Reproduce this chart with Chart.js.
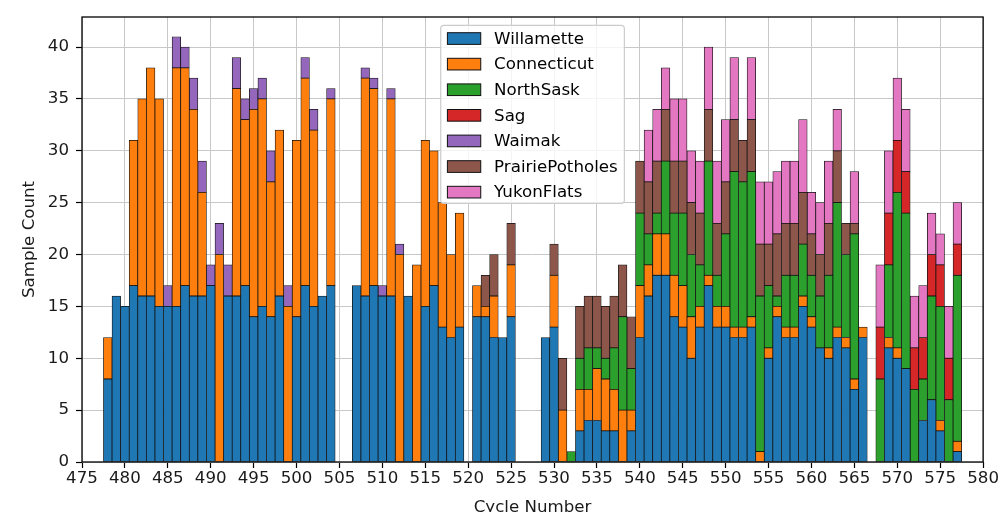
<!DOCTYPE html>
<html>
<head>
<meta charset="utf-8">
<title>Sample Count by Cycle</title>
<script src="https://cdn.jsdelivr.net/npm/chart.js@4.4.0/dist/chart.umd.min.js"></script>
<style>
  html, body { margin: 0; padding: 0; background: #ffffff; }
  canvas { display: block; }
</style>
</head>
<body>
<canvas id="chart" width="1000" height="512"></canvas>
<script>
// Cycle numbers (one bar per cycle)
const cycles = [
  478, 479, 480, 481, 482, 483, 484, 485, 486, 487,
  488, 489, 490, 491, 492, 493, 494, 495, 496, 497,
  498, 499, 500, 501, 502, 503, 504, 505, 506, 507,
  508, 509, 510, 511, 512, 513, 514, 515, 516, 517,
  518, 519, 520, 521, 522, 523, 524, 525, 526, 527,
  528, 529, 530, 531, 532, 533, 534, 535, 536, 537,
  538, 539, 540, 541, 542, 543, 544, 545, 546, 547,
  548, 549, 550, 551, 552, 553, 554, 555, 556, 557,
  558, 559, 560, 561, 562, 563, 564, 565, 566, 567,
  568, 569, 570, 571, 572, 573, 574, 575, 576, 577
];

// Sample counts per site, aligned with `cycles`
const willamette = [
  8, 16, 15, 17, 16, 16, 15, 15, 15, 17,
  16, 16, 17, 0, 16, 16, 17, 14, 15, 14,
  16, 0, 14, 17, 15, 16, 17, 0, 0, 17,
  16, 17, 16, 16, 0, 16, 0, 15, 17, 13,
  12, 13, 0, 14, 14, 12, 12, 14, 0, 0,
  0, 12, 13, 0, 0, 3, 4, 4, 3, 3,
  0, 3, 12, 16, 18, 18, 14, 13, 10, 13,
  17, 13, 13, 12, 12, 13, 0, 10, 14, 12,
  12, 15, 13, 11, 10, 12, 11, 7, 12, 0,
  0, 11, 10, 9, 0, 4, 6, 3, 0, 1
];
const connecticut = [
  4, 0, 0, 14, 19, 22, 20, 0, 23, 21,
  18, 10, 0, 20, 0, 20, 16, 20, 20, 13,
  16, 15, 17, 20, 17, 0, 18, 0, 0, 0,
  21, 19, 0, 19, 20, 0, 19, 16, 13, 12,
  8, 11, 0, 3, 1, 4, 0, 5, 0, 0,
  0, 0, 5, 5, 0, 4, 3, 5, 5, 4,
  5, 2, 5, 3, 4, 4, 4, 4, 4, 2,
  1, 2, 2, 1, 1, 1, 1, 1, 1, 1,
  1, 1, 1, 0, 1, 1, 1, 1, 1, 0,
  0, 1, 1, 0, 0, 0, 0, 1, 0, 1
];
const northSask = [
  0, 0, 0, 0, 0, 0, 0, 0, 0, 0,
  0, 0, 0, 0, 0, 0, 0, 0, 0, 0,
  0, 0, 0, 0, 0, 0, 0, 0, 0, 0,
  0, 0, 0, 0, 0, 0, 0, 0, 0, 0,
  0, 0, 0, 0, 0, 0, 0, 0, 0, 0,
  0, 0, 0, 0, 1, 3, 4, 2, 2, 4,
  9, 4, 7, 3, 2, 7, 6, 7, 6, 4,
  11, 3, 7, 15, 14, 14, 15, 6, 1, 5,
  5, 5, 4, 5, 7, 12, 8, 14, 0, 0,
  8, 7, 15, 15, 7, 4, 10, 11, 6, 16
];
const sag = [
  0, 0, 0, 0, 0, 0, 0, 0, 0, 0,
  0, 0, 0, 0, 0, 0, 0, 0, 0, 0,
  0, 0, 0, 0, 0, 0, 0, 0, 0, 0,
  0, 0, 0, 0, 0, 0, 0, 0, 0, 0,
  0, 0, 0, 0, 0, 0, 0, 0, 0, 0,
  0, 0, 0, 0, 0, 0, 0, 0, 0, 0,
  0, 0, 0, 0, 0, 0, 0, 0, 0, 0,
  0, 0, 0, 0, 0, 0, 0, 0, 0, 0,
  0, 0, 0, 0, 0, 0, 0, 0, 0, 0,
  5, 5, 5, 4, 4, 4, 4, 4, 4, 3
];
const waimak = [
  0, 0, 0, 0, 0, 0, 0, 2, 3, 2,
  3, 3, 2, 3, 3, 3, 2, 2, 2, 3,
  0, 2, 0, 2, 2, 0, 1, 0, 0, 0,
  1, 1, 1, 1, 1, 0, 0, 0, 0, 0,
  0, 0, 0, 0, 0, 0, 0, 0, 0, 0,
  0, 0, 0, 0, 0, 0, 0, 0, 0, 0,
  0, 0, 0, 0, 0, 0, 0, 0, 0, 0,
  0, 0, 0, 0, 0, 0, 0, 0, 0, 0,
  0, 0, 0, 0, 0, 0, 0, 0, 0, 0,
  0, 0, 0, 0, 0, 0, 0, 0, 0, 0
];
const prairiePotholes = [
  0, 0, 0, 0, 0, 0, 0, 0, 0, 0,
  0, 0, 0, 0, 0, 0, 0, 0, 0, 0,
  0, 0, 0, 0, 0, 0, 0, 0, 0, 0,
  0, 0, 0, 0, 0, 0, 0, 0, 0, 0,
  0, 0, 0, 0, 3, 4, 0, 4, 0, 0,
  0, 0, 3, 5, 0, 5, 5, 5, 5, 5,
  5, 5, 5, 5, 5, 5, 5, 5, 5, 5,
  5, 5, 5, 5, 4, 5, 5, 4, 6, 5,
  5, 5, 4, 4, 5, 5, 3, 1, 0, 0,
  0, 0, 0, 0, 0, 0, 0, 0, 0, 0
];
const yukonFlats = [
  0, 0, 0, 0, 0, 0, 0, 0, 0, 0,
  0, 0, 0, 0, 0, 0, 0, 0, 0, 0,
  0, 0, 0, 0, 0, 0, 0, 0, 0, 0,
  0, 0, 0, 0, 0, 0, 0, 0, 0, 0,
  0, 0, 0, 0, 0, 0, 0, 0, 0, 0,
  0, 0, 0, 0, 0, 0, 0, 0, 0, 0,
  0, 0, 0, 5, 5, 4, 6, 6, 5, 5,
  6, 6, 6, 6, 0, 6, 6, 6, 6, 6,
  6, 7, 4, 5, 6, 4, 0, 5, 0, 0,
  6, 6, 6, 6, 5, 5, 4, 3, 5, 4
];

// Series names in stacking order (bottom to top) and their fill colours
const seriesNames = ['Willamette', 'Connecticut', 'NorthSask', 'Sag', 'Waimak', 'PrairiePotholes', 'YukonFlats'];
const seriesValues = [willamette, connecticut, northSask, sag, waimak, prairiePotholes, yukonFlats];
const seriesColors = ['#1f77b4', '#ff7f0e', '#2ca02c', '#d62728', '#9467bd', '#8c564b', '#e377c2'];

// Axis ranges and tick spacing
const xMin = 475, xMax = 580, xStep = 5;
const yMin = 0, yMax = 42.9, yStep = 5;

const FONT = '"DejaVu Sans", "Liberation Sans", sans-serif';
const FS = 16.67;

const datasets = seriesNames.map((name, s) => ({
  label: name,
  data: cycles.map((c, i) => ({ x: c, y: seriesValues[s][i] })),
  backgroundColor: seriesColors[s],
  borderColor: '#111111',
  borderWidth: 0.75,
  borderSkipped: false,
  barPercentage: 1.0,
  categoryPercentage: 1.0
}));

// Frame around the plot area plus a boxed legend at the top centre
const frameAndLegend = {
  id: 'frameAndLegend',
  afterDatasetsDraw(chart) {
    const { ctx, chartArea: a } = chart;
    ctx.save();
    ctx.strokeStyle = '#000000';
    ctx.lineWidth = 1.3;
    ctx.strokeRect(a.left, a.top, a.right - a.left, a.bottom - a.top);

    ctx.font = `${FS}px ${FONT}`;
    const labels = chart.data.datasets.map(d => d.label);
    const textW = Math.max(...labels.map(l => ctx.measureText(l).width));
    const pad = 0.4 * FS, handleW = 2 * FS, handleH = 0.7 * FS, gap = 0.8 * FS, rowH = 25.6;
    const boxW = pad + handleW + gap + textW + pad;
    const boxH = 2 * 13.2 + (labels.length - 1) * rowH - 2;
    const bx = (a.left + a.right) / 2 - boxW / 2;
    const by = a.top + 0.5 * FS;

    const r = 0.2 * FS;
    ctx.beginPath();
    ctx.roundRect(bx, by, boxW, boxH, r);
    ctx.fillStyle = 'rgba(255,255,255,0.8)';
    ctx.fill();
    ctx.strokeStyle = '#cccccc';
    ctx.lineWidth = 1.2;
    ctx.stroke();

    labels.forEach((label, i) => {
      const cy = by + 13.2 + i * rowH;
      const hx = bx + pad;
      ctx.fillStyle = chart.data.datasets[i].backgroundColor;
      ctx.fillRect(hx, cy - handleH / 2, handleW, handleH);
      ctx.strokeStyle = '#111111';
      ctx.lineWidth = 1;
      ctx.strokeRect(hx, cy - handleH / 2, handleW, handleH);
      ctx.fillStyle = '#000000';
      ctx.textBaseline = 'alphabetic';
      ctx.textAlign = 'left';
      ctx.fillText(label, hx + handleW + gap, cy + 5.3);
    });
    ctx.restore();
  }
};

new Chart(document.getElementById('chart'), {
  type: 'bar',
  data: { datasets },
  options: {
    responsive: false,
    devicePixelRatio: 1,
    animation: false,
    layout: { padding: { left: 0, right: 14, top: 10, bottom: 0 } },
    plugins: {
      legend: { display: false },
      tooltip: { enabled: false }
    },
    scales: {
      x: {
        type: 'linear',
        stacked: true,
        min: xMin,
        max: xMax,
        offset: false,
        border: { display: false },
        grid: {
          offset: false,
          color: '#c8c8c8',
          lineWidth: 1,
          tickColor: '#000000',
          tickLength: 6,
          tickWidth: 1.2
        },
        ticks: {
          stepSize: xStep,
          autoSkip: false,
          maxRotation: 0,
          padding: 1,
          color: '#1a1a1a',
          font: { family: FONT, size: FS }
        },
        title: {
          display: true,
          text: 'Cycle Number',
          color: '#1a1a1a',
          font: { family: FONT, size: FS, lineHeight: 1 },
          padding: { top: 0, bottom: -4 }
        },
        afterFit(scale) { scale.height = 50; }
      },
      y: {
        stacked: true,
        min: yMin,
        max: yMax,
        border: { display: false },
        grid: {
          color: '#c8c8c8',
          lineWidth: 1,
          tickColor: '#000000',
          tickLength: 6,
          tickWidth: 1.2
        },
        ticks: {
          stepSize: yStep,
          includeBounds: false,
          padding: 7,
          color: '#1a1a1a',
          font: { family: FONT, size: FS }
        },
        title: {
          display: true,
          text: 'Sample Count',
          color: '#1a1a1a',
          font: { family: FONT, size: FS },
          padding: { top: 20, bottom: 0 }
        },
        afterFit(scale) { scale.width = 82; }
      }
    }
  },
  plugins: [frameAndLegend]
});
</script>
</body>
</html>
